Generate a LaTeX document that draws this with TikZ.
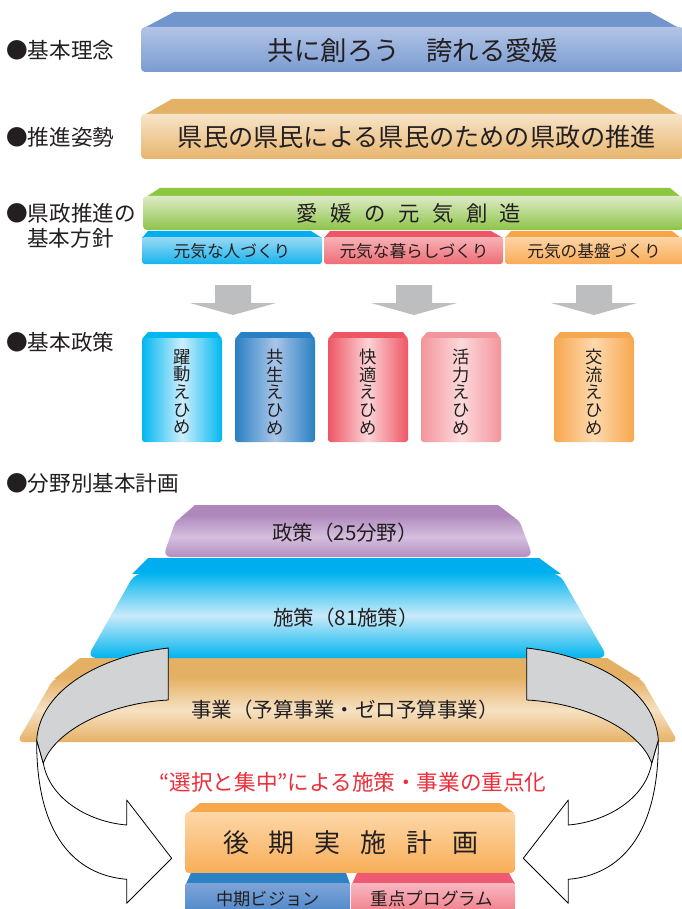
\documentclass[tikz,border=0pt]{standalone}
\usepackage{fontspec}
\setmainfont{Noto Sans CJK JP}
\usetikzlibrary{calc}
\definecolor{txt}{HTML}{231F20}
\definecolor{bAtop}{HTML}{7096CB}
\definecolor{bAhi}{HTML}{B2C4E6}
\definecolor{bAlo}{HTML}{7A9BD0}
\definecolor{bBtop}{HTML}{E4B266}
\definecolor{bBhi}{HTML}{F7E4CA}
\definecolor{bBlo}{HTML}{E8B56C}
\definecolor{gAtop}{HTML}{8DC63F}
\definecolor{gAhi}{HTML}{DCEBC6}
\definecolor{gAlo}{HTML}{8EC448}
\definecolor{cyS}{HTML}{00AEEF}
\definecolor{cyHi}{HTML}{9AD9F5}
\definecolor{cyLo}{HTML}{16B4EC}
\definecolor{rdS}{HTML}{EE5566}
\definecolor{rdHi}{HTML}{F7B2B6}
\definecolor{rdLo}{HTML}{EF6D76}
\definecolor{orS}{HTML}{F8A54A}
\definecolor{orHi}{HTML}{FDD4A4}
\definecolor{orLo}{HTML}{F9AC57}
\definecolor{arrG}{HTML}{BCBEC0}
\definecolor{vAe}{HTML}{00B7F0}\definecolor{vAm}{HTML}{CDEEFC}
\definecolor{vBe}{HTML}{2A80C3}\definecolor{vBm}{HTML}{A9C6E8}
\definecolor{vCe}{HTML}{EE5664}\definecolor{vCm}{HTML}{FBD3D6}
\definecolor{vDe}{HTML}{F3959C}\definecolor{vDm}{HTML}{FCD9DB}
\definecolor{vEe}{HTML}{F7A74D}\definecolor{vEm}{HTML}{FDD9AE}
\definecolor{puT}{HTML}{AE87BC}\definecolor{puE}{HTML}{B28EC1}\definecolor{puM}{HTML}{D6BEDF}
\definecolor{blT}{HTML}{00ADEE}\definecolor{blE}{HTML}{00B4EE}\definecolor{blM}{HTML}{C9EAFA}
\definecolor{oyT}{HTML}{E4B064}\definecolor{oyE}{HTML}{E6B165}\definecolor{oyM}{HTML}{F6E1C3}
\definecolor{ribG}{HTML}{D1D3D4}
\definecolor{redT}{HTML}{EE2D3A}
\definecolor{bxT}{HTML}{F7A84B}\definecolor{bxHi}{HTML}{FDD7A8}\definecolor{bxLo}{HTML}{F8AE58}
\definecolor{sbBS}{HTML}{2B83C6}\definecolor{sbBHi}{HTML}{7FA4D8}\definecolor{sbBLo}{HTML}{4A86C8}
\definecolor{sbPS}{HTML}{EF5A72}\definecolor{sbPHi}{HTML}{F8B8C0}\definecolor{sbPLo}{HTML}{F07A86}
\newcommand{\fsz}[1]{\fontsize{#1}{#1}\selectfont}
\newcommand{\lsA}{\hspace{9.4pt}}
\newcommand{\lsB}{\hspace{15pt}}
\begin{document}
\begin{tikzpicture}[x=0.75pt,y=-0.75pt,
  lbl/.style={anchor=west,inner sep=0,text=txt,font=\fsz{16.2}},
  tx/.style={inner sep=0,text=txt},
  vt/.style={inner sep=0,text=txt,align=center,font=\fontsize{13}{13.2}\selectfont},
  rib/.style={draw=black,line width=0.6pt,line join=round}]
\useasboundingbox (0,0) rectangle (681,909);
\fill[white] (0,0) rectangle (681,909);

% ---- labels
\node[lbl] (l1) at (6,50) {●基本理念};
\node[lbl] (l2) at (6,137) {●推進姿勢};
\node[lbl] (l3) at (6,213) {●県政推進の};
\node[lbl] (l3b) at (27,238) {基本方針};
\node[lbl] (l4) at (6,342) {●基本政策};
\node[lbl] (l5) at (6,483) {●分野別基本計画};

% ---- box 1
\fill[bAtop] (144,28) -- (174,12) -- (650,12) -- (679,28) -- cycle;
\shade[top color=bAhi,bottom color=bAlo,rounded corners=3pt] (141,27) rectangle (684,72);
\node[tx,font=\fsz{19.8}] (t1) at (413,50) {共に創ろう　誇れる愛媛};

% ---- box 2
\fill[bBtop] (144,115) -- (172,99) -- (652,99) -- (679,115) -- cycle;
\shade[top color=bBhi,bottom color=bBlo,rounded corners=3pt] (141,114) rectangle (684,159);
\node[tx,font=\fsz{18.9}] (t2) at (417,137) {県民の県民による県民のための県政の推進};

% ---- green
\fill[gAtop] (146,197) -- (160,188) -- (670,188) -- (681,197) -- cycle;
\shade[top color=gAhi,bottom color=gAlo,rounded corners=3pt] (143,196) rectangle (684,230);
\node[tx,font=\fsz{16}] (tg) at (409,213) {愛\lsA 媛\lsA の\lsA 元\lsA 気\lsA 創\lsA 造};

% ---- sub boxes
\fill[cyS] (142,238) -- (148,231) -- (311,231) -- (322,238) -- cycle;
\shade[top color=cyHi,bottom color=cyLo,rounded corners=2pt] (142,237) rectangle (322,264);
\node[tx,font=\fsz{12.5}] (s1) at (232,251) {元気な人づくり};
\fill[rdS] (324,238) -- (330,231) -- (491,231) -- (503,238) -- cycle;
\shade[top color=rdHi,bottom color=rdLo,rounded corners=2pt] (324,237) rectangle (503,264);
\node[tx,font=\fsz{12.5}] (s2) at (414,251) {元気な暮らしづくり};
\fill[orS] (505,238) -- (511,231) -- (672,231) -- (681,238) -- cycle;
\shade[top color=orHi,bottom color=orLo,rounded corners=2pt] (505,237) rectangle (684,264);
\node[tx,font=\fsz{12.5}] (s3) at (594,251) {元気の基盤づくり};

% ---- down arrows
\foreach \c in {233,414,594}
  \fill[arrG] (\c-18,285) -- (\c+18,285) -- (\c+18,303) -- (\c+43,303) -- (\c,315) -- (\c-43,303) -- (\c-18,303) -- cycle;

% ---- vertical boxes
\fill[vAe] (142,339) -- (148,332) -- (217,332) -- (222,339) -- cycle;
\shade[left color=vAe,right color=vAe,middle color=vAm,rounded corners=2pt] (142,338) rectangle (222,442);
\node[vt] (p1) at (182,392) {躍\\動\\え\\ひ\\め};
\fill[vBe] (235,339) -- (241,332) -- (310,332) -- (315,339) -- cycle;
\shade[left color=vBe,right color=vBe,middle color=vBm,rounded corners=2pt] (235,338) rectangle (315,442);
\node[vt] (p2) at (275,392) {共\\生\\え\\ひ\\め};
\fill[vCe] (328,339) -- (334,332) -- (403,332) -- (408,339) -- cycle;
\shade[left color=vCe,right color=vCe,middle color=vCm,rounded corners=2pt] (328,338) rectangle (408,442);
\node[vt] (p3) at (368,392) {快\\適\\え\\ひ\\め};
\fill[vDe] (421,339) -- (427,332) -- (496,332) -- (501,339) -- cycle;
\shade[left color=vDe,right color=vDe,middle color=vDm,rounded corners=2pt] (421,338) rectangle (501,442);
\node[vt] (p4) at (461,392) {活\\力\\え\\ひ\\め};
\fill[vEe] (554,339) -- (560,332) -- (629,332) -- (634,339) -- cycle;
\shade[left color=vEe,right color=vEe,middle color=vEm,rounded corners=2pt] (554,338) rectangle (634,442);
\node[vt] (p5) at (594,392) {交\\流\\え\\ひ\\め};

% ---- pyramid: orange
\fill[oyT] (54,679) -- (80,658) -- (607,658) -- (641,679) -- cycle;
\shade[top color=oyE,bottom color=oyE,middle color=oyM,rounded corners=5pt] (54,678) -- (641,678) -- (678,742) -- (17,742) -- cycle;
% ---- pyramid: blue
\fill[blT] (132,574) -- (148,558) -- (539,558) -- (561,574) -- cycle;
\shade[top color=blE,bottom color=blE,middle color=blM,rounded corners=7pt] (135,573) -- (559,573) -- (608,658) -- (87,658) -- cycle;
% ---- pyramid: purple
\fill[puT] (180,518) -- (195,505) -- (498,505) -- (515,518) -- cycle;
\shade[top color=puE,bottom color=puE,middle color=puM,rounded corners=6pt] (177,517) -- (518,517) -- (533,557) -- (163,557) -- cycle;
\node[tx,font=\fsz{15.4}] (q1) at (345,533) {政策（25分野）};
\node[tx,font=\fsz{15.4}] (q2) at (346,618) {施策（81施策）};
\node[tx,font=\fsz{15.4}] (q3) at (345,710) {事業（予算事業・ゼロ予算事業）};

% ---- left ribbon arrow
\coordinate (LA) at (168.3,648);
\coordinate (LB) at (36.7,740);
\coordinate (LC) at (43.3,763.3);
\coordinate (LD) at (168.3,700);
\coordinate (LE) at (126.7,879.3);
\coordinate (LF) at (126.7,903.3);
\coordinate (LT) at (171.7,858.3);
\coordinate (LG) at (126.7,800);
\coordinate (LH) at (126.7,825);
\filldraw[rib,fill=white] (LB) .. controls (36,835) and (75,875) .. (LE) -- (LF) -- (LT) -- (LG) -- (LH)
   .. controls (90,822) and (50,800) .. (LC) -- cycle;
\filldraw[rib,fill=ribG] (LA) .. controls (100,656) and (40,690) .. (LB) -- (LC)
   .. controls (55,730) and (110,703) .. (LD) -- cycle;

% ---- right ribbon arrow (mirror)
\coordinate (RA) at (526.7,648);
\coordinate (RB) at (658.3,740);
\coordinate (RC) at (651.7,763.3);
\coordinate (RD) at (526.7,700);
\coordinate (RE) at (568.3,879.3);
\coordinate (RF) at (568.3,903.3);
\coordinate (RT) at (523.3,858.3);
\coordinate (RG) at (568.3,800);
\coordinate (RH) at (568.3,825);
\filldraw[rib,fill=white] (RB) .. controls (659,835) and (620,875) .. (RE) -- (RF) -- (RT) -- (RG) -- (RH)
   .. controls (605,822) and (645,800) .. (RC) -- cycle;
\filldraw[rib,fill=ribG] (RA) .. controls (595,656) and (655,690) .. (RB) -- (RC)
   .. controls (640,730) and (585,703) .. (RD) -- cycle;

% ---- red text
\node[tx,text=redT,font=\fsz{16.2}] (red) at (353,782) {“選択と集中”による施策・事業の重点化};

% ---- bottom box
\fill[bxT] (188,813) -- (200,803) -- (500,803) -- (514,813) -- cycle;
\shade[top color=bxHi,bottom color=bxLo,rounded corners=3pt] (185,812) rectangle (515,873);
\node[tx,font=\fsz{19.5}] (bt) at (351,843) {後\lsB 期\lsB 実\lsB 施\lsB 計\lsB 画};
\fill[sbBS] (186,884) -- (191,873) -- (346,873) -- (350,884) -- cycle;
\shade[top color=sbBHi,bottom color=sbBLo,rounded corners=2pt] (185,883) rectangle (350,915);
\node[tx,font=\fsz{12.9}] (sb1) at (268,899) {中期ビジョン};
\fill[sbPS] (352,884) -- (357,873) -- (509,873) -- (515,884) -- cycle;
\shade[top color=sbPHi,bottom color=sbPLo,rounded corners=2pt] (351,883) rectangle (515,915);
\node[tx,font=\fsz{13.2}] (sb2) at (432,899) {重点プログラム};
\end{tikzpicture}
\end{document}
